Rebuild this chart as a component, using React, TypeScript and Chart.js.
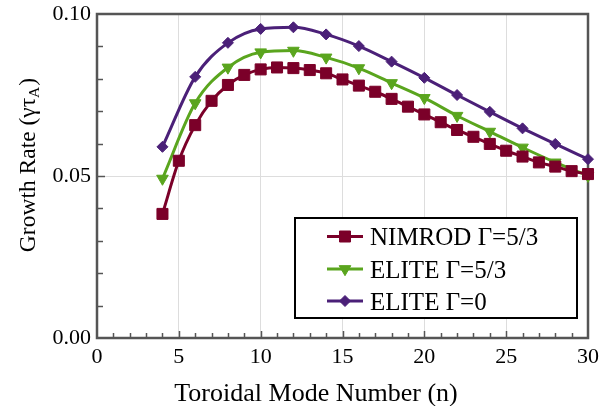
import React, { useEffect, useRef } from 'react';
import { Chart, registerables } from 'chart.js';

Chart.register(...registerables);

// Toroidal mode numbers and growth rates (normalised to the Alfvén time)
const nimrodModes = [4, 5, 6, 7, 8, 9, 10, 11, 12, 13, 14, 15, 16, 17, 18, 19, 20, 21, 22, 23, 24, 25, 26, 27, 28, 29, 30];
const nimrodGrowth = [
  0.0383, 0.0547, 0.0657, 0.0732, 0.0781, 0.0812, 0.0829, 0.0835, 0.0833, 0.0827,
  0.0817, 0.0798, 0.0779, 0.0760, 0.0738, 0.0714, 0.0690, 0.0666, 0.0642, 0.0621,
  0.0599, 0.0578, 0.0560, 0.0542, 0.0529, 0.0515, 0.0506,
];
const eliteModes = [4, 6, 8, 10, 12, 14, 16, 18, 20, 22, 24, 26, 28, 30];
const eliteGamma53 = [0.0492, 0.0725, 0.0835, 0.0882, 0.0887, 0.0866, 0.0833, 0.0787, 0.0741, 0.0686, 0.0637, 0.0588, 0.0542, 0.0501];
const eliteGamma0 = [0.0590, 0.0806, 0.0911, 0.0954, 0.0959, 0.0937, 0.0901, 0.0853, 0.0803, 0.0750, 0.0698, 0.0647, 0.0599, 0.0552];

const seriesLabels = ['NIMROD Γ=5/3', 'ELITE Γ=5/3', 'ELITE Γ=0'];
const seriesColors = ['#7b0029', '#5aa51e', '#4b2078'];

const xTitle = 'Toroidal Mode Number (n)';
const yTitleMain = 'Growth Rate (γτ';
const yTitleSub = 'A';
const yTitleEnd = ')';

const SERIF = '"Liberation Serif", "Times New Roman", serif';

type Shape = 'square' | 'triangle' | 'diamond';
const seriesShapes: Shape[] = ['square', 'triangle', 'diamond'];

function drawMarker(ctx: CanvasRenderingContext2D, shape: Shape, x: number, y: number, color: string) {
  ctx.save();
  ctx.fillStyle = color;
  ctx.strokeStyle = color;
  ctx.lineWidth = 1;
  ctx.beginPath();
  if (shape === 'square') {
    ctx.rect(x - 5.5, y - 5.5, 11, 11);
  } else if (shape === 'triangle') {
    const r = 6.7;
    ctx.moveTo(x, y + r);
    ctx.lineTo(x - r * 0.866, y - r * 0.5);
    ctx.lineTo(x + r * 0.866, y - r * 0.5);
    ctx.closePath();
  } else {
    const r = 5.5;
    ctx.moveTo(x, y - r);
    ctx.lineTo(x + r, y);
    ctx.lineTo(x, y + r);
    ctx.lineTo(x - r, y);
    ctx.closePath();
  }
  ctx.fill();
  ctx.stroke();
  ctx.restore();
}

// Let the layout padding alone decide the plot-area margins
function zeroScalePadding(scale: any) {
  scale.paddingTop = 0;
  scale.paddingBottom = 0;
  scale.paddingLeft = 0;
  scale.paddingRight = 0;
}

const frameAndTicks = {
  id: 'frameAndTicks',
  beforeDatasetsDraw(chart: any) {
    const { ctx, chartArea } = chart;
    const { left, right, top, bottom } = chartArea;
    const xs = chart.scales.x;
    const ys = chart.scales.y;
    ctx.save();
    ctx.strokeStyle = '#555555';
    ctx.lineWidth = 1.5;
    // inward ticks on the bottom axis, every unit
    for (let n = 1; n < 30; n++) {
      const px = Math.round(xs.getPixelForValue(n)) + 0.5;
      const len = n % 5 === 0 ? 7 : 5;
      ctx.beginPath();
      ctx.moveTo(px, bottom);
      ctx.lineTo(px, bottom - len);
      ctx.stroke();
    }
    // inward ticks on the left axis, every 0.01
    for (let k = 1; k < 10; k++) {
      const py = Math.round(ys.getPixelForValue(k / 100)) + 0.5;
      const len = k % 5 === 0 ? 8 : 6;
      ctx.beginPath();
      ctx.moveTo(left, py);
      ctx.lineTo(left + len, py);
      ctx.stroke();
    }
    ctx.lineWidth = 2.5;
    ctx.strokeRect(left, top, right - left, bottom - top);
    ctx.restore();
  },
  afterDraw(chart: any) {
    const { ctx } = chart;
    ctx.save();
    ctx.fillStyle = '#000000';

    // x-axis title
    ctx.font = `26px ${SERIF}`;
    ctx.textAlign = 'center';
    ctx.textBaseline = 'alphabetic';
    ctx.fillText(xTitle, 316, 401);

    // y-axis title with subscript
    ctx.translate(26, 165);
    ctx.rotate(-Math.PI / 2);
    ctx.textAlign = 'left';
    const bigFont = `23.5px ${SERIF}`;
    const smallFont = `15.5px ${SERIF}`;
    ctx.font = bigFont;
    const w1 = ctx.measureText(yTitleMain).width;
    const w3 = ctx.measureText(yTitleEnd).width;
    ctx.font = smallFont;
    const w2 = ctx.measureText(yTitleSub).width;
    let x0 = -(w1 + w2 + w3 + 1) / 2;
    ctx.font = bigFont;
    ctx.fillText(yTitleMain, x0, 8.5);
    x0 += w1;
    ctx.font = smallFont;
    ctx.fillText(yTitleSub, x0, 12.5);
    x0 += w2 + 1;
    ctx.font = bigFont;
    ctx.fillText(yTitleEnd, x0, 8.5);
    ctx.setTransform(1, 0, 0, 1, 0, 0);

    // legend box
    ctx.fillStyle = '#ffffff';
    ctx.fillRect(295, 218, 282, 100);
    ctx.strokeStyle = '#000000';
    ctx.lineWidth = 2;
    ctx.strokeRect(295, 218, 282, 100);
    const baselines = [245, 277.5, 309.5];
    ctx.font = `25px ${SERIF}`;
    ctx.textAlign = 'left';
    ctx.textBaseline = 'alphabetic';
    seriesLabels.forEach((label, i) => {
      const cy = baselines[i] - 8.5;
      ctx.strokeStyle = seriesColors[i];
      ctx.lineWidth = 3;
      ctx.beginPath();
      ctx.moveTo(327, cy);
      ctx.lineTo(363, cy);
      ctx.stroke();
      drawMarker(ctx, seriesShapes[i], 345, cy, seriesColors[i]);
      ctx.fillStyle = '#000000';
      ctx.fillText(label, 370, baselines[i]);
    });
    ctx.restore();
  },
};

export default function App() {
  const canvasRef = useRef<HTMLCanvasElement | null>(null);

  useEffect(() => {
    const canvas = canvasRef.current;
    if (!canvas) return;

    const toPoints = (xs: number[], ys: number[]) => xs.map((x, i) => ({ x, y: ys[i] }));

    const chart = new Chart(canvas, {
      type: 'line',
      data: {
        datasets: [
          {
            label: seriesLabels[0],
            data: toPoints(nimrodModes, nimrodGrowth),
            borderColor: seriesColors[0],
            backgroundColor: seriesColors[0],
            borderWidth: 3,
            pointStyle: 'rect',
            pointRadius: 7.8,
            pointBorderWidth: 1,
            cubicInterpolationMode: 'monotone',
            clip: false,
          },
          {
            label: seriesLabels[1],
            data: toPoints(eliteModes, eliteGamma53),
            borderColor: seriesColors[1],
            backgroundColor: seriesColors[1],
            borderWidth: 3,
            pointStyle: 'triangle',
            pointRotation: 180,
            pointRadius: 6.7,
            pointBorderWidth: 1,
            cubicInterpolationMode: 'monotone',
            clip: false,
          },
          {
            label: seriesLabels[2],
            data: toPoints(eliteModes, eliteGamma0),
            borderColor: seriesColors[2],
            backgroundColor: seriesColors[2],
            borderWidth: 3,
            pointStyle: 'rectRot',
            pointRadius: 5.5,
            pointBorderWidth: 1,
            cubicInterpolationMode: 'monotone',
            clip: false,
          },
        ],
      },
      options: {
        responsive: false,
        animation: false,
        layout: { padding: { top: 14, right: 12, left: 0, bottom: 0 } },
        plugins: {
          legend: { display: false },
          tooltip: { enabled: false },
        },
        scales: {
          x: {
            type: 'linear',
            min: 0,
            max: 30,
            afterFit: (scale: any) => {
              scale.height = 68;
              zeroScalePadding(scale);
            },
            ticks: {
              stepSize: 5,
              color: '#000000',
              padding: 6,
              font: { family: SERIF, size: 22 },
              maxRotation: 0,
            },
            grid: { color: '#dddddd', lineWidth: 1, drawTicks: false },
            border: { display: false },
          },
          y: {
            type: 'linear',
            min: 0,
            max: 0.1,
            afterFit: (scale: any) => {
              scale.width = 97;
              zeroScalePadding(scale);
            },
            ticks: {
              stepSize: 0.05,
              color: '#000000',
              padding: 6,
              font: { family: SERIF, size: 22 },
              callback: (v: any) => Number(v).toFixed(2),
            },
            grid: { color: '#dddddd', lineWidth: 1, drawTicks: false },
            border: { display: false },
          },
        },
      },
      plugins: [frameAndTicks],
    });

    return () => chart.destroy();
  }, []);

  return (
    <div style={{ position: 'absolute', left: 0, top: 0, width: 600, height: 406, background: '#ffffff' }}>
      <canvas ref={canvasRef} width={600} height={406} style={{ display: 'block' }} />
    </div>
  );
}
